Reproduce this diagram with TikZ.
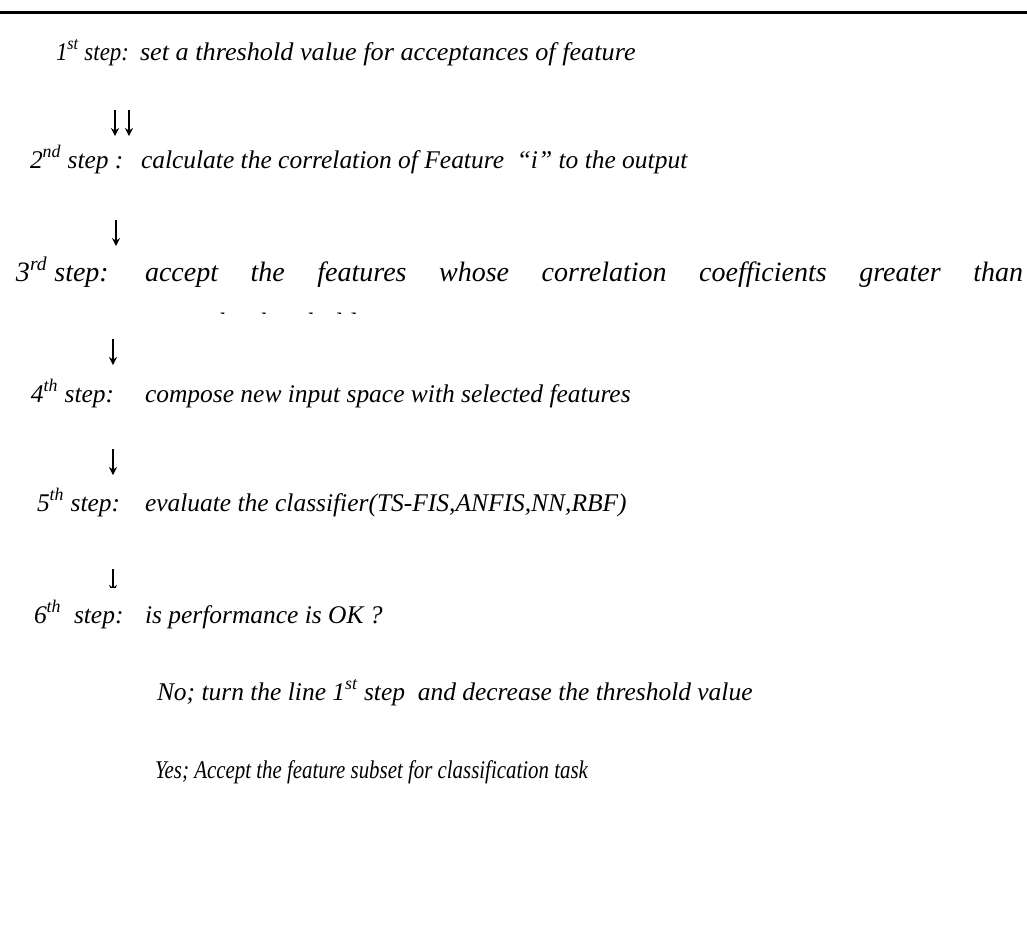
\documentclass[tikz,border=0pt]{standalone}
\usepackage{fontspec}
\setmainfont{Liberation Serif}
\usetikzlibrary{arrows.meta}
\begin{document}
\begin{tikzpicture}[x=0.75pt,y=-0.75pt,
  every node/.style={inner sep=0pt,outer sep=0pt,anchor=base west,
    font=\fontsize{19.1}{23}\selectfont\itshape},
  steplabel/.style={},
  steptext/.style={},
  bigline/.style={font=\fontsize{21}{25}\selectfont\itshape},
  downarrow/.style={line width=1pt,-{Stealth[length=6pt,width=6pt]}}]
\useasboundingbox (0,0) rectangle (1027,926);
\fill[white] (0,0) rectangle (1027,926);

% top rule
\coordinate (ruleL) at (0,12);
\coordinate (ruleR) at (1027,12);
\draw[line width=2.25pt] (ruleL) -- (ruleR);

% step 1
\node[steplabel] (l1) at (56,60) {\scalebox{0.9}[1]{1\textsuperscript{st} step:}};
\node[steptext]  (t1) at (140,60) {\scalebox{1.03}[1]{set a threshold value for acceptances of feature}};

% double arrow 1 -> 2
\coordinate (a1t) at (115,110);  \coordinate (a1b) at (115,136);
\coordinate (a1t') at (129,110); \coordinate (a1b') at (129,136);
\draw[downarrow] (a1t) -- (a1b);
\draw[downarrow] (a1t') -- (a1b');

% step 2
\node[steplabel] (l2) at (30,168) {2\textsuperscript{nd} step :};
\node[steptext]  (t2) at (141,168) {calculate the correlation of Feature \ \textquotedblleft i\textquotedblright\ to the output};

% arrow 2 -> 3
\coordinate (a2t) at (116,220); \coordinate (a2b) at (116,246);
\draw[downarrow] (a2t) -- (a2b);

% step 3 (justified line, continuation cut off by its frame)
\node[steplabel,bigline] (l3) at (16,281) {3\textsuperscript{rd} step:};
\node[steptext,bigline]  (t3) at (145,281) {\makebox[658.5pt][s]{accept the features whose correlation coefficients greater than}};
\begin{scope}
  \clip (150,290) rectangle (600,313);
  \node[steptext,bigline] (t3b) at (210,332) {the threshold};
\end{scope}

% arrow 3 -> 4
\coordinate (a3t) at (113,339); \coordinate (a3b) at (113,365);
\draw[downarrow] (a3t) -- (a3b);

% step 4
\node[steplabel] (l4) at (31,402) {4\textsuperscript{th} step:};
\node[steptext]  (t4) at (145,402) {compose new input space with selected features};

% arrow 4 -> 5
\coordinate (a4t) at (113,449); \coordinate (a4b) at (113,475);
\draw[downarrow] (a4t) -- (a4b);

% step 5
\node[steplabel] (l5) at (37,511) {5\textsuperscript{th} step:};
\node[steptext]  (t5) at (145,511) {evaluate the classifier(TS-FIS,ANFIS,NN,RBF)};

% arrow 5 -> 6 (lower part hidden)
\coordinate (a5t) at (113,569); \coordinate (a5b) at (113,593);
\begin{scope}
  \clip (95,560) rectangle (130,587);
  \draw[downarrow] (a5t) -- (a5b);
\end{scope}

% step 6 and its two outcomes
\node[steplabel] (l6) at (34,623) {6\textsuperscript{th} \ step:};
\node[steptext]  (t6) at (145,623) {is performance is OK ?};
\node[steptext]  (no) at (157,700) {No; turn the line 1\textsuperscript{st} step \ and decrease the threshold value};
\node[steptext]  (yes) at (155,778) {\scalebox{0.82}[1]{Yes; Accept the feature subset for classification task}};
\end{tikzpicture}
\end{document}
